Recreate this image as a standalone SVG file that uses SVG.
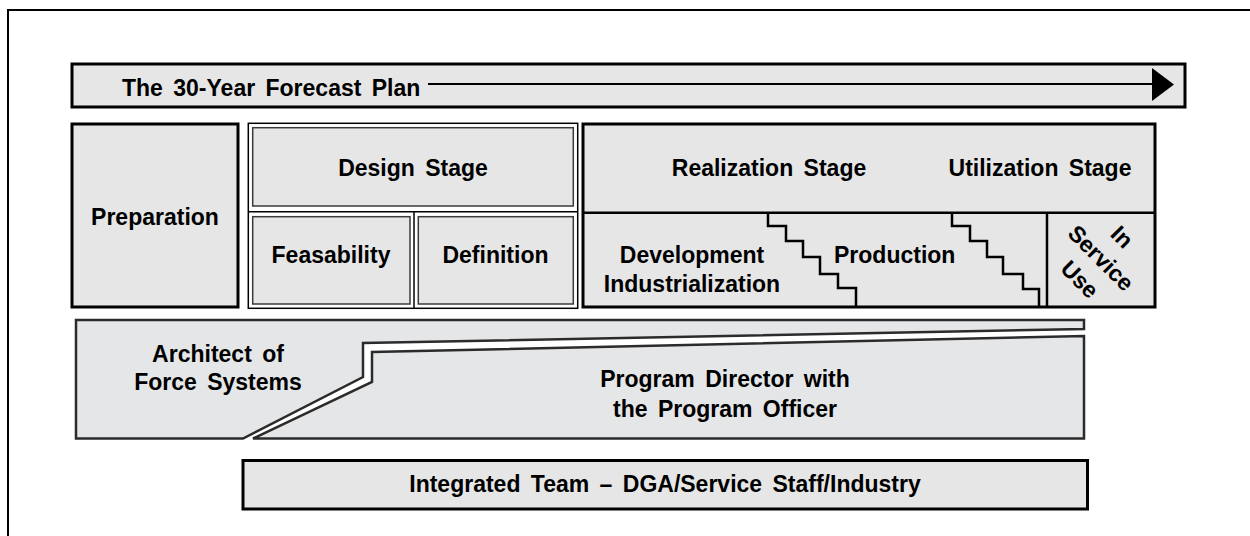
<svg xmlns="http://www.w3.org/2000/svg" width="1250" height="536" viewBox="0 0 1250 536">
  <style>
    .t { font-family: "Liberation Sans", Arial, sans-serif; font-weight: bold; font-size: 23px; fill: #000; word-spacing: 4px; }
    .m { text-anchor: middle; }
    .box { fill: #e6e6e6; stroke: #000; stroke-width: 3; }
    .thin { fill: #fff; stroke: #000; stroke-width: 1.5; }
    .cell { fill: #e6e6e6; stroke: #3a3a3a; stroke-width: 1.5; }
    .band { fill: #e5e6e8; stroke: #2b2b2b; stroke-width: 2.5; stroke-linejoin: miter; }
    .ln { fill: none; stroke: #000; stroke-width: 2.5; }
  </style>
  <rect width="1250" height="536" fill="#fff"/>
  <rect id="frame" x="8" y="10" width="1270" height="560" fill="none" stroke="#000" stroke-width="2"/>

  <g id="forecast">
    <rect class="box" x="72" y="64" width="1113" height="43"/>
    <text class="t" x="122" y="96">The 30-Year Forecast Plan</text>
  </g>

  <g id="connectors">
    <line x1="428" y1="84" x2="1154" y2="84" stroke="#000" stroke-width="2"/>
    <polygon points="1152,68 1174,84.5 1152,101" fill="#000"/>
  </g>

  <g id="preparation">
    <rect class="box" x="72" y="124" width="166" height="183"/>
    <text class="t m" x="155" y="225">Preparation</text>
  </g>

  <g id="design">
    <rect class="thin" x="248.3" y="123.3" width="329.4" height="185"/>
    <line x1="248.3" y1="211.7" x2="577.7" y2="211.7" stroke="#000" stroke-width="1.5"/>
    <line x1="414" y1="211.7" x2="414" y2="308.3" stroke="#000" stroke-width="1.5"/>
    <g id="design-stage">
      <rect class="cell" x="252.7" y="127.7" width="320.6" height="78.3"/>
      <text class="t m" x="413" y="176">Design Stage</text>
    </g>
    <g id="feasability">
      <rect class="cell" x="252.7" y="216.7" width="157.3" height="87.3"/>
      <text class="t m" x="331" y="263">Feasability</text>
    </g>
    <g id="definition">
      <rect class="cell" x="418.3" y="216.7" width="155" height="87.3"/>
      <text class="t m" x="495.5" y="263">Definition</text>
    </g>
  </g>

  <g id="realization">
    <rect class="box" x="583" y="124" width="572" height="183"/>
    <line class="ln" x1="583" y1="212.7" x2="1155" y2="212.7"/>
    <line class="ln" x1="1047" y1="212.7" x2="1047" y2="307"/>
    <polyline class="ln" points="768,212.7 768,226 786,226 786,241 803,241 803,257 820,257 820,274 838,274 838,288 856,288 856,307"/>
    <polyline class="ln" points="952,212.7 952,226 970,226 970,241 987,241 987,257 1003,257 1003,274 1023,274 1023,289 1039,289 1039,307"/>
    <text class="t m" x="769" y="176">Realization Stage</text>
    <text class="t m" x="1040" y="176">Utilization Stage</text>
    <g id="development">
      <text class="t m" x="692" y="263">Development</text>
      <text class="t m" x="692" y="292">Industrialization</text>
    </g>
    <g id="production">
      <text class="t" x="834" y="263">Production</text>
    </g>
    <g id="in-service-use" transform="translate(1101,258) rotate(45)">
      <text class="t m" x="0" y="-22">In</text>
      <text class="t m" x="0" y="8">Service</text>
      <text class="t m" x="0" y="38">Use</text>
    </g>
  </g>

  <g id="architect">
    <polygon class="band" points="76,320 1084,320 1084,329 363,343 363,377 243,438.5 76,438.5"/>
    <text class="t m" x="218" y="361.5">Architect of</text>
    <text class="t m" x="218" y="390">Force Systems</text>
  </g>

  <g id="program-director">
    <polygon class="band" points="253,438.5 372,382 372,352 1084,336 1084,438.5"/>
    <text class="t m" x="725" y="387">Program Director with</text>
    <text class="t m" x="725" y="416.5">the Program Officer</text>
  </g>

  <g id="integrated-team">
    <rect class="box" x="243" y="460.5" width="844.5" height="48.5"/>
    <text class="t m" x="665" y="492">Integrated Team – DGA/Service Staff/Industry</text>
  </g>
</svg>
